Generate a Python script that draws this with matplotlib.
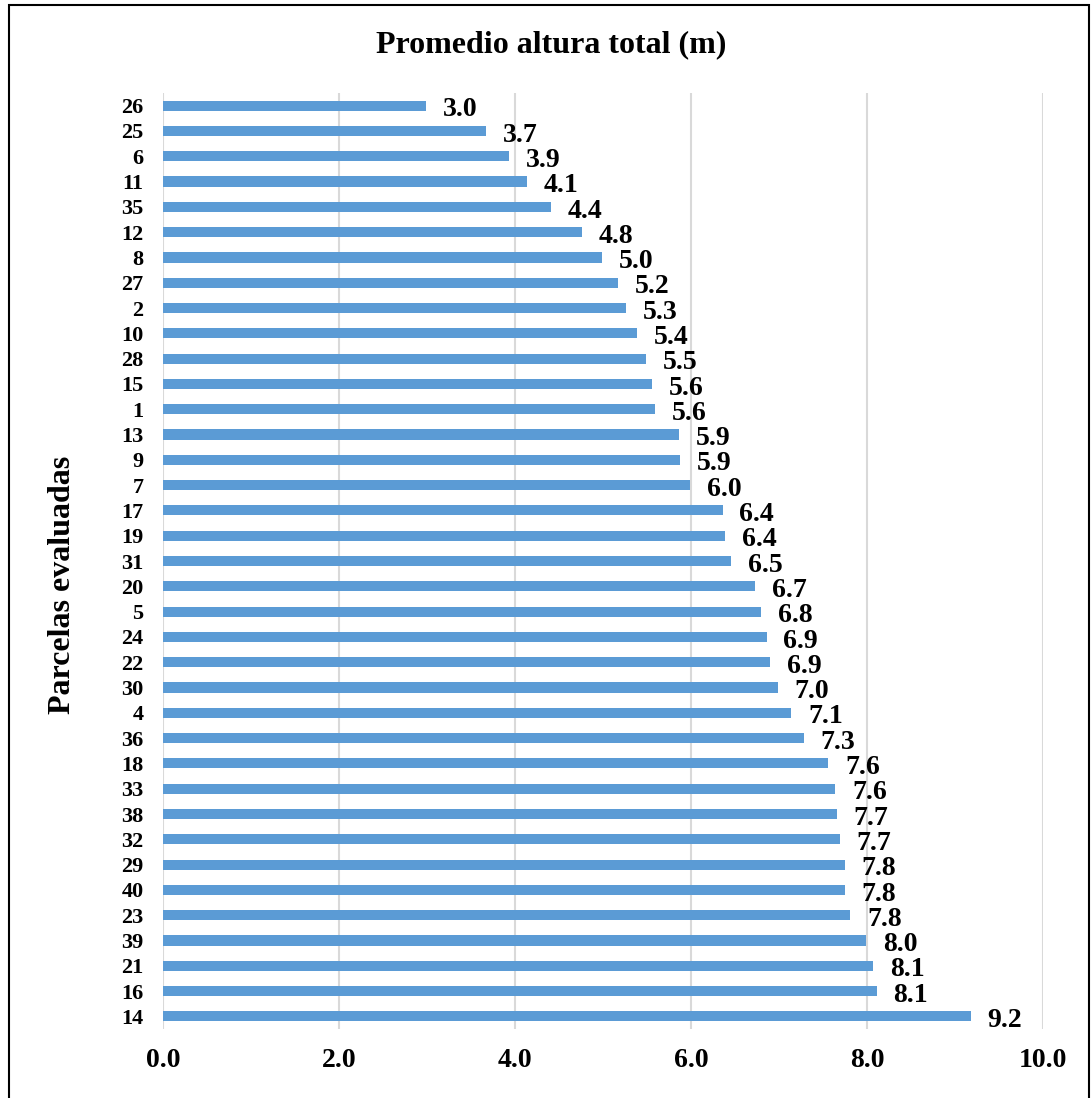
import matplotlib.pyplot as plt
from matplotlib.patches import Rectangle

# parcelas, de arriba hacia abajo
parcelas = ["26", "25", "6", "11", "35", "12", "8", "27", "2", "10", "28", "15", "1",
            "13", "9", "7", "17", "19", "31", "20", "5", "24", "22", "30", "4", "36",
            "18", "33", "38", "32", "29", "40", "23", "39", "21", "16", "14"]
altura = [2.99, 3.67, 3.93, 4.14, 4.41, 4.76, 4.99, 5.17, 5.26, 5.39, 5.49, 5.56, 5.59,
          5.86, 5.88, 5.99, 6.36, 6.39, 6.46, 6.73, 6.80, 6.86, 6.90, 6.99, 7.14, 7.28,
          7.56, 7.64, 7.66, 7.69, 7.75, 7.75, 7.81, 7.99, 8.07, 8.11, 9.18]
xticks = [0, 2, 4, 6, 8, 10]

plt.rcParams['font.family'] = ['Liberation Serif', 'DejaVu Serif']
plt.rcParams['font.weight'] = 'bold'

fig = plt.figure(figsize=(10.91, 10.98), dpi=100)
ax = fig.add_axes([0.1494, 0.0628, 0.8066, 0.8525])

n = len(parcelas)
ypos = list(range(n))
ax.barh(ypos, altura, height=0.4, color='#5B9BD5', zorder=3)
ax.set_ylim(n - 0.5, -0.5)
ax.set_xlim(0, 10)

for y, v in zip(ypos, altura):
    ax.annotate(f"{v:.1f}", (v, y), xytext=(12, -3), textcoords='offset points',
                ha='left', va='center', fontsize=20, fontweight='bold')

ax.set_yticks(ypos)
ax.set_yticklabels(parcelas, fontsize=16, fontweight='bold')
ax.set_xticks(xticks)
ax.set_xticklabels([f"{t:.1f}" for t in xticks], fontsize=20, fontweight='bold')
ax.tick_params(axis='both', length=0)
ax.tick_params(axis='x', pad=14)
ax.tick_params(axis='y', pad=14)

ax.grid(axis='x', color='#d9d9d9', linewidth=1.5, zorder=0)
for s in ax.spines.values():
    s.set_visible(False)

fig.text(0.505, 0.959, "Promedio altura total (m)", ha='center', va='center',
         fontsize=23, fontweight='bold')
fig.text(0.057, 0.467, "Parcelas evaluadas", rotation=90, ha='center', va='center',
         fontsize=23, fontweight='bold')

# marco del gráfico
fig.patches.append(Rectangle((0.0085, -0.05), 0.9895, 1.045, transform=fig.transFigure,
                             fill=False, edgecolor='black', linewidth=1.5))

fig.savefig("out.png", dpi=100)
